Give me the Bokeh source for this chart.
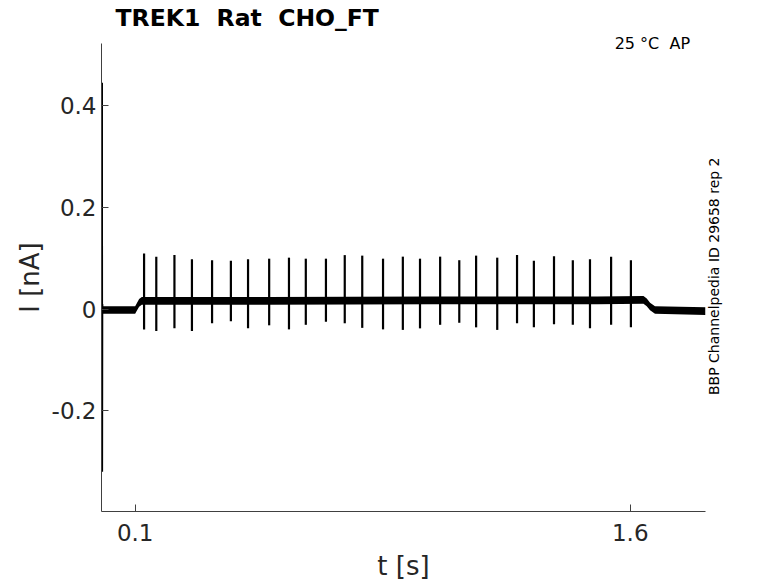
import math
from bokeh.plotting import figure
from bokeh.models import Range1d, FixedTicker, LinearAxis, ColumnDataSource
from bokeh.embed import file_html
from bokeh.resources import INLINE

# ---------------- data ----------------
# (no-break spaces keep the doubled gaps of the original texts visible in SVG)
title_text = "TREK1\u00a0 Rat\u00a0 CHO_FT"
temp_text = "25 \u00b0C\u00a0 AP"
id_text = "BBP Channelpedia ID 29658 rep 2"

x_ticks = [0.1, 1.6]
x_tick_labels = ["0.1", "1.6"]
y_ticks = [-0.2, 0.0, 0.2, 0.4]
y_tick_labels = ["-0.2", "0", "0.2", "0.4"]

# capacitive transient at the start of the sweep (t [s], I [nA])
trans_t = [0.0, 0.0003, 0.0006, 0.0012, 0.002]
trans_i = [-0.002, 0.445, -0.32, 0.01, -0.002]

# baseline (mean current) and its noise half-width
base_t = [0.002, 0.100, 0.105, 0.112, 0.120, 0.50, 1.00, 1.50, 1.640, 1.650, 1.660, 1.675, 1.828]
base_i = [-0.002, -0.002, 0.004, 0.012, 0.016, 0.016, 0.017, 0.017, 0.018, 0.013, 0.005, -0.002, -0.004]
noise = 0.0075

# spikes: time, peak, trough
spike_t = [0.127, 0.164, 0.219, 0.272, 0.333, 0.390, 0.442, 0.506, 0.566, 0.617,
           0.678, 0.735, 0.788, 0.851, 0.911, 0.963, 1.024, 1.082, 1.133, 1.197,
           1.257, 1.308, 1.369, 1.426, 1.478, 1.542, 1.602]
spike_top = [0.109, 0.103, 0.106, 0.098, 0.096, 0.095, 0.098, 0.099, 0.101, 0.099,
             0.099, 0.106, 0.105, 0.099, 0.103, 0.099, 0.103, 0.096, 0.105, 0.101,
             0.106, 0.095, 0.104, 0.096, 0.098, 0.103, 0.096]
spike_bot = [-0.040, -0.043, -0.038, -0.043, -0.028, -0.024, -0.038, -0.032, -0.040, -0.031,
             -0.025, -0.028, -0.037, -0.040, -0.041, -0.038, -0.031, -0.027, -0.036, -0.041,
             -0.028, -0.036, -0.030, -0.031, -0.038, -0.031, -0.036]

# anchor positions of the two side texts (data units)
temp_pos_t = 1.667
id_pos_i = -0.169

# ---------------- figure ----------------
FONT = "DejaVu Sans"
p = figure(width=778, height=583, output_backend="svg", toolbar_location=None,
           x_range=Range1d(-0.002, 1.828), y_range=Range1d(-0.398, 0.522),
           min_border_left=101, min_border_right=73, min_border_top=43, min_border_bottom=71)
p.background_fill_color = "white"
p.border_fill_color = "white"
p.outline_line_color = None
p.grid.visible = False

p.title.text = title_text
p.title.text_font = FONT
p.title.text_font_size = "23.5px"
p.title.text_font_style = "bold"
p.title.text_color = "black"
p.title.align = "left"
p.title.offset = 14
p.title.standoff = -2

for ax in (p.xaxis[0], p.yaxis[0]):
    ax.axis_line_color = "#404040"
    ax.axis_line_width = 1
    ax.major_tick_line_color = "#404040"
    ax.major_tick_in = 7
    ax.major_tick_out = 0
    ax.minor_tick_line_color = None
    ax.major_label_text_font = FONT
    ax.major_label_text_color = "#262626"
    ax.major_label_text_font_size = "23px"
    ax.axis_label_text_font = FONT
    ax.axis_label_text_font_size = "26px"
    ax.axis_label_text_font_style = "normal"
    ax.axis_label_text_color = "#262626"

p.xaxis.ticker = FixedTicker(ticks=x_ticks)
p.xaxis.major_label_overrides = {t: s for t, s in zip(x_ticks, x_tick_labels)}
p.xaxis.major_label_standoff = 12
p.xaxis.axis_label = "t [s]"
p.xaxis.axis_label_standoff = 7

p.yaxis.ticker = FixedTicker(ticks=y_ticks)
p.yaxis.major_label_overrides = {t: s for t, s in zip(y_ticks, y_tick_labels)}
p.yaxis.major_label_standoff = 5
p.yaxis.axis_label = "I [nA]"
p.yaxis.axis_label_standoff = 4


def text_axis(tick, text, size, standoff, orientation):
    ax = LinearAxis(ticker=FixedTicker(ticks=[tick]),
                    major_label_overrides={tick: text})
    ax.axis_line_color = None
    ax.major_tick_line_color = None
    ax.minor_tick_line_color = None
    ax.major_label_text_font = FONT
    ax.major_label_text_font_size = size
    ax.major_label_text_color = "black"
    ax.major_label_standoff = standoff
    ax.major_label_orientation = orientation
    return ax


p.add_layout(text_axis(temp_pos_t, temp_text, "16px", -15, "horizontal"), "above")
p.add_layout(text_axis(id_pos_i, id_text, "14px", 3, math.pi / 2), "right")

# ---------------- trace ----------------
lower = [v - noise for v in base_i]
upper = [v + noise for v in base_i]
p.varea(x=base_t, y1=lower, y2=upper, fill_color="black")

src = ColumnDataSource(dict(t=spike_t, top=spike_top, bot=spike_bot))
p.segment(x0="t", y0="bot", x1="t", y1="top", source=src, line_color="black", line_width=2.2)

p.line(trans_t, trans_i, line_color="black", line_width=1.5)

open("out.html", "w").write(file_html(p, INLINE))
